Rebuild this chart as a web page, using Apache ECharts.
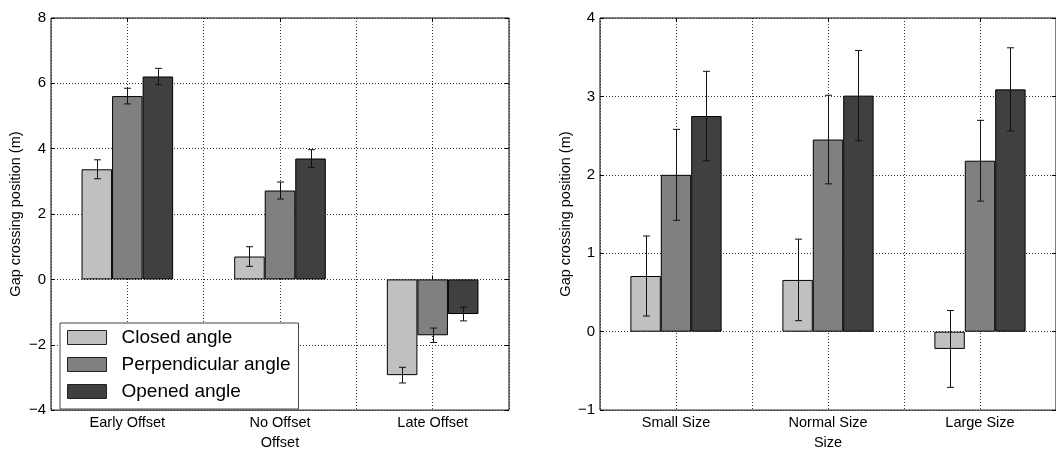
<!DOCTYPE html>
<html><head><meta charset="utf-8">
<script src="https://cdn.jsdelivr.net/npm/echarts@6/dist/echarts.min.js"></script>
<style>html,body{margin:0;padding:0;background:#fff}#c{width:1056px;height:455px}</style>
</head><body><div id="c"></div>
<script>
const offsetCategories = ['Early Offset', 'No Offset', 'Late Offset'];
const sizeCategories = ['Small Size', 'Normal Size', 'Large Size'];
const seriesNames = ['Closed angle', 'Perpendicular angle', 'Opened angle'];

const offsetClosed = [3.37, 0.70, -2.93];
const offsetPerpendicular = [5.61, 2.72, -1.71];
const offsetOpened = [6.21, 3.70, -1.06];
const offsetClosedErr = [0.29, 0.30, 0.24];
const offsetPerpendicularErr = [0.24, 0.26, 0.22];
const offsetOpenedErr = [0.25, 0.27, 0.21];

const sizeClosed = [0.71, 0.66, -0.22];
const sizePerpendicular = [2.00, 2.45, 2.18];
const sizeOpened = [2.75, 3.01, 3.09];
const sizeClosedErr = [0.51, 0.52, 0.49];
const sizePerpendicularErr = [0.58, 0.565, 0.515];
const sizeOpenedErr = [0.57, 0.575, 0.53];

const offsetTicks = [-4, -2, 0, 2, 4, 6, 8];
const sizeTicks = [-1, 0, 1, 2, 3, 4];

const colors = ['#c0c0c0', '#808080', '#404040'];
const FONT = 'Liberation Sans, Arial, Helvetica, sans-serif';
const fmtNum = v => v < 0 ? '\u2212' + (-v) : String(v);
const gridLine = {show: true, lineStyle: {color: '#333', type: [1, 2], width: 1}};

function yAxes(gridIndex, ticks, nameGap) {
  const base = {
    type: 'value', gridIndex,
    min: ticks[0], max: ticks[ticks.length - 1], interval: ticks[1] - ticks[0]
  };
  return [
    Object.assign({}, base, {
      position: 'left',
      name: 'Gap crossing position (m)', nameLocation: 'middle', nameGap,
      nameTextStyle: {fontSize: 14.5, color: '#000', fontFamily: FONT},
      axisLine: {show: false},
      axisTick: {show: true, inside: true, length: 4, lineStyle: {color: '#000'}},
      axisLabel: {fontSize: 15, color: '#000', fontFamily: FONT, margin: 5, formatter: fmtNum},
      splitLine: gridLine
    }),
    Object.assign({}, base, {
      position: 'right',
      axisLine: {show: false},
      axisTick: {show: true, inside: true, length: 4, lineStyle: {color: '#000'}},
      axisLabel: {show: false},
      splitLine: {show: false}
    })
  ];
}

function xAxes(gridIndex, cats, name) {
  return [
    {
      type: 'category', gridIndex, data: cats, position: 'bottom',
      name, nameLocation: 'middle', nameGap: 21,
      nameTextStyle: {fontSize: 14.5, color: '#000', fontFamily: FONT},
      axisLine: {show: false},
      axisTick: {show: true, inside: true, length: 4, alignWithLabel: true, lineStyle: {color: '#000'}},
      axisLabel: {fontSize: 14.5, color: '#000', fontFamily: FONT, margin: 5},
      splitLine: {show: false}
    },
    {
      type: 'value', gridIndex, min: 0.5, max: 3.5, interval: 0.5, position: 'bottom',
      axisLine: {show: false}, axisTick: {show: false}, axisLabel: {show: false},
      splitLine: gridLine
    },
    {
      type: 'category', gridIndex, data: cats, position: 'top',
      axisLine: {show: false},
      axisTick: {show: true, inside: true, length: 4, alignWithLabel: true, lineStyle: {color: '#000'}},
      axisLabel: {show: false}, splitLine: {show: false}
    }
  ];
}

function barSeries(name, xi, yi, vals, k) {
  return {
    type: 'bar', name, xAxisIndex: xi, yAxisIndex: yi,
    barWidth: '20%', barGap: '0%',
    itemStyle: {color: colors[k], borderColor: '#000', borderWidth: 1},
    data: vals, silent: true, z: 2
  };
}

function errSeries(xi, yi, vals, errs, k) {
  return {
    type: 'custom', name: 'err' + xi + '_' + k, xAxisIndex: xi, yAxisIndex: yi, z: 5, silent: true,
    data: vals.map((v, i) => [i, v, errs[i]]),
    renderItem(params, api) {
      const i = api.value(0), v = api.value(1), e = api.value(2);
      const band = api.size([1, 0])[0];
      const off = (k - 1) * 0.2 * band;
      const p1 = api.coord([i, v + e]), p2 = api.coord([i, v - e]);
      const x = Math.round(p1[0] + off) + 0.5;
      const cw = 3.5;
      const st = {stroke: '#111', lineWidth: 1};
      return {type: 'group', children: [
        {type: 'line', shape: {x1: x, y1: p1[1], x2: x, y2: p2[1]}, style: st},
        {type: 'line', shape: {x1: x - cw, y1: p1[1], x2: x + cw, y2: p1[1]}, style: st},
        {type: 'line', shape: {x1: x - cw, y1: p2[1], x2: x + cw, y2: p2[1]}, style: st}
      ]};
    }
  };
}

const offsetVals = [offsetClosed, offsetPerpendicular, offsetOpened];
const offsetErrs = [offsetClosedErr, offsetPerpendicularErr, offsetOpenedErr];
const sizeVals = [sizeClosed, sizePerpendicular, sizeOpened];
const sizeErrs = [sizeClosedErr, sizePerpendicularErr, sizeOpenedErr];

const series = [];
for (let k = 0; k < 3; k++) series.push(barSeries(seriesNames[k], 0, 0, offsetVals[k], k));
for (let k = 0; k < 3; k++) series.push(barSeries(seriesNames[k], 3, 2, sizeVals[k], k));
for (let k = 0; k < 3; k++) series.push(errSeries(0, 0, offsetVals[k], offsetErrs[k], k));
for (let k = 0; k < 3; k++) series.push(errSeries(3, 2, sizeVals[k], sizeErrs[k], k));

const option = {
  animation: false,
  backgroundColor: '#fff',
  textStyle: {fontFamily: FONT},
  grid: [
    {left: 51, top: 18, width: 458, height: 401, show: true, borderColor: '#000', borderWidth: 1},
    {left: 600, top: 18, width: 456, height: 401, show: true, borderColor: '#000', borderWidth: 1}
  ],
  xAxis: [].concat(xAxes(0, offsetCategories, 'Offset'), xAxes(1, sizeCategories, 'Size')),
  yAxis: [].concat(yAxes(0, offsetTicks, 28), yAxes(1, sizeTicks, 25)),
  legend: {
    data: seriesNames, orient: 'vertical', left: 60, top: 323,
    padding: [5, 8, 8, 7], itemGap: 8, itemWidth: 39, itemHeight: 14,
    backgroundColor: '#fff', borderColor: '#444', borderWidth: 1,
    icon: 'rect',
    itemStyle: {borderColor: '#222', borderWidth: 1},
    textStyle: {fontSize: 19, color: '#000', fontFamily: FONT, padding: [0, 0, 0, 10]},
    selectedMode: false
  },
  series
};
const chart = echarts.init(document.getElementById('c'), null, {renderer: 'canvas'});
chart.setOption(option);
</script></body></html>
